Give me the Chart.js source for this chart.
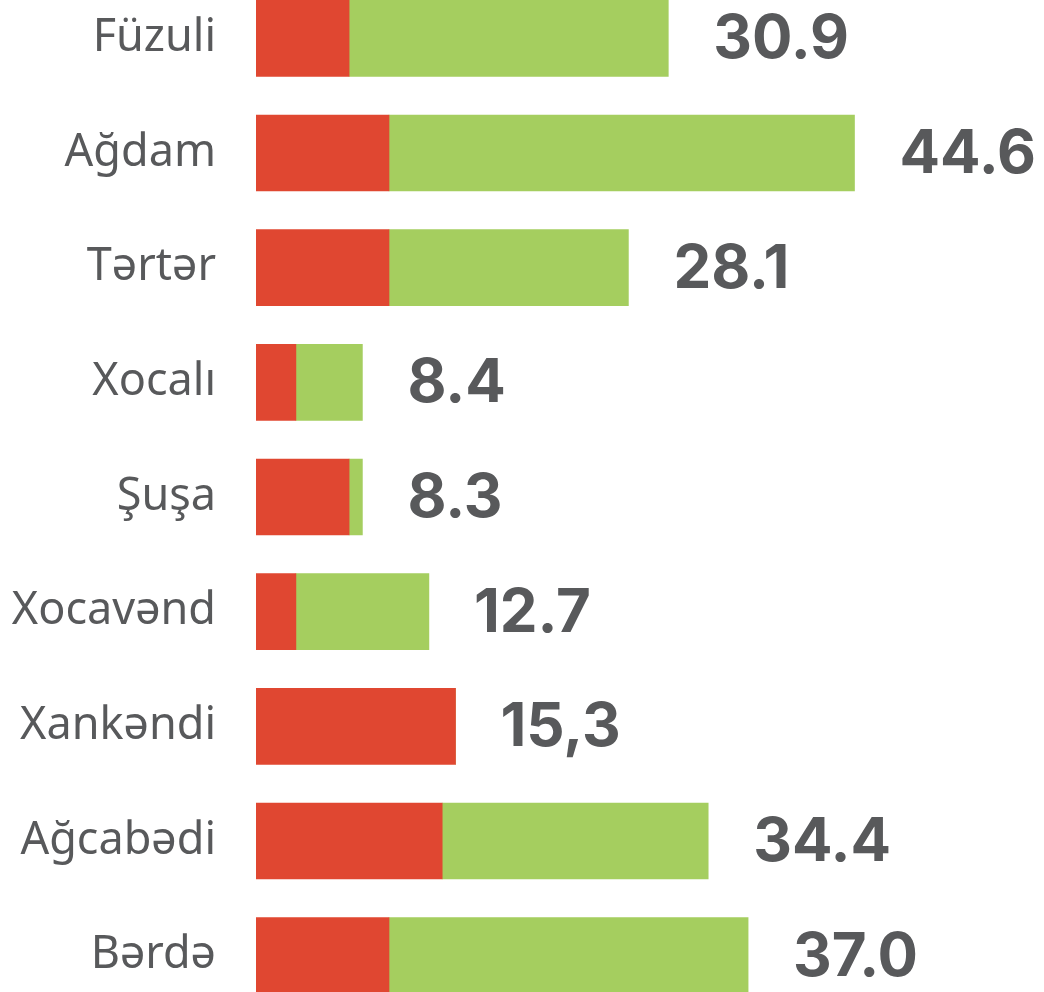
<!DOCTYPE html>
<html>
<head>
<meta charset="utf-8">
<script src="https://cdn.jsdelivr.net/npm/chart.js@4.4.1/dist/chart.umd.min.js"></script>
<style>
html,body{margin:0;padding:0;background:#fff;overflow:hidden;width:1044px;height:992px;}
#wrap{position:absolute;left:0;top:-19px;width:1044px;height:1032px;}
</style>
</head>
<body>
<div id="wrap"><canvas id="c" width="1044" height="1032"></canvas></div>
<script>
const categories = ["Füzuli","Ağdam","Tərtər","Xocalı","Şuşa","Xocavənd","Xankəndi","Ağcabədi","Bərdə"];
const redValues = [7,10,10,3,7,3,15,14,10];
const greenValues = [24,35,18,5,1,10,0,20,27];
const totalLabels = ["30.9","44.6","28.1","8.4","8.3","12.7","15,3","34.4","37.0"];

const TEXT = "#58595B";

const totalsPlugin = {
  id: "totals",
  afterDatasetsDraw(chart) {
    const ctx = chart.ctx;
    const meta = chart.getDatasetMeta(1);
    const xScale = chart.scales.x;
    ctx.save();
    ctx.fillStyle = TEXT;
    ctx.font = "bold 60px Inter, 'Open Sans', sans-serif";
    ctx.textAlign = "left";
    ctx.textBaseline = "middle";
    meta.data.forEach((bar, i) => {
      const end = xScale.getPixelForValue(redValues[i] + greenValues[i]);
      ctx.fillText(totalLabels[i], end + 45, bar.y + 2);
    });
    ctx.restore();
  }
};

new Chart(document.getElementById("c"), {
  type: "bar",
  data: {
    labels: categories,
    datasets: [
      { data: redValues, backgroundColor: "#E04731", borderWidth: 0, barThickness: 76 },
      { data: greenValues, backgroundColor: "#A5CE5F", borderWidth: 0, barThickness: 76 }
    ]
  },
  options: {
    indexAxis: "y",
    responsive: false,
    animation: false,
    layout: { padding: 0 },
    plugins: { legend: { display: false }, tooltip: { enabled: false } },
    scales: {
      x: {
        stacked: true, display: false, min: 0, max: 788 / 13.3
      },
      y: {
        stacked: true,
        grid: { display: false, drawTicks: false },
        border: { display: false },
        afterFit(scale) {
          scale.width = 256;
          scale.paddingTop = 0;
          scale.paddingBottom = 0;
        },
        ticks: {
          color: TEXT,
          padding: 40,
          font: { family: "'Noto Sans', 'Open Sans', sans-serif", size: 45 }
        }
      }
    }
  },
  plugins: [totalsPlugin]
});
</script>
</body>
</html>
